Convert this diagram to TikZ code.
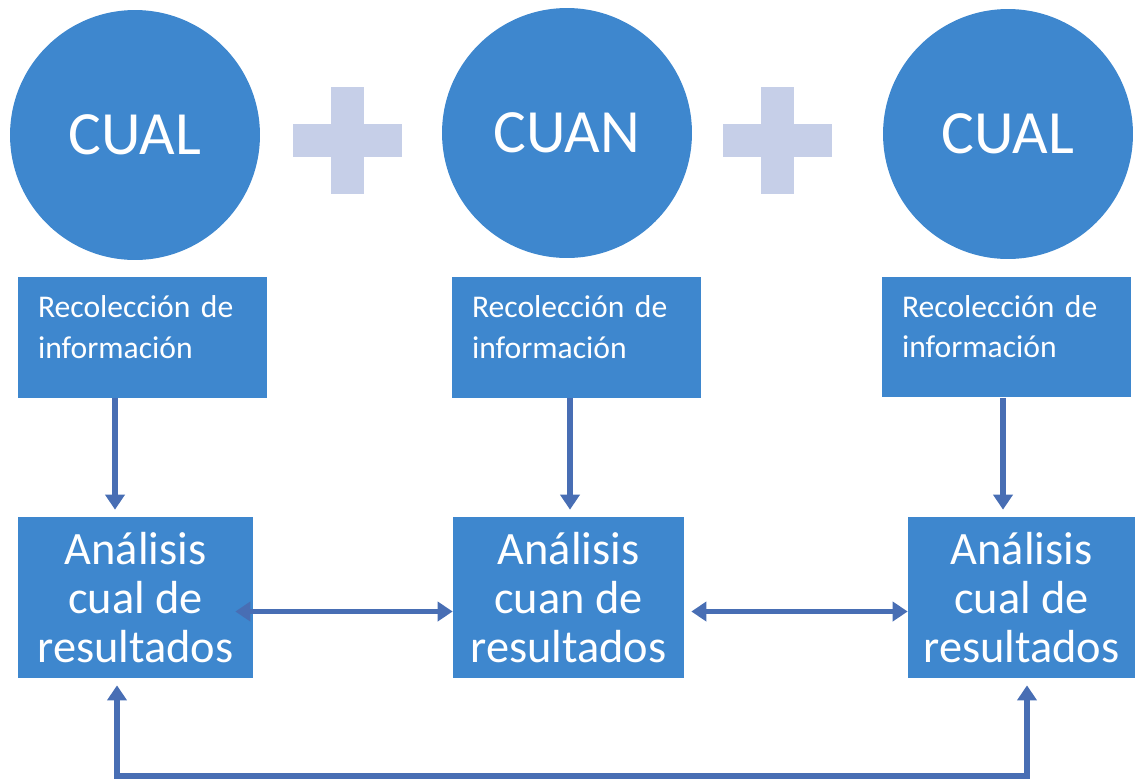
\documentclass[tikz,border=0pt]{standalone}
\usepackage{fontspec}
\setmainfont{Carlito}
\usetikzlibrary{arrows.meta}

\definecolor{mixblue}{RGB}{62,135,206}
\definecolor{linkblue}{RGB}{72,110,180}
\definecolor{plusblue}{RGB}{198,207,232}

\begin{document}
\begin{tikzpicture}[x=0.02cm, y=-0.02cm,
      >={Triangle[length=0.3cm, width=0.38cm]},
      phase/.style={circle, fill=mixblue, text=white, minimum size=5cm, inner sep=0pt, font=\fontsize{35}{40}\selectfont},
      collect/.style={rectangle, fill=mixblue, text=white, text width=4.18cm, inner xsep=0.4cm, minimum height=2.42cm, align=left, font=\fontsize{18}{22.8}\selectfont},
      analysis/.style={rectangle, fill=mixblue, text=white, minimum height=3.22cm, align=center, font=\fontsize{26.4}{28}\selectfont},
      arrow/.style={->, line width=3.2pt, draw=linkblue},
      darrow/.style={<->, line width=3.2pt, draw=linkblue}
    ]
      \useasboundingbox (0,0) rectangle (1135,782);

      % circles
      \node[phase] (cual1) at (135,135)  {CUAL};
      \node[phase] (cuan)  at (567,133)  {CUAN};
      \node[phase] (cual2) at (1008,134) {CUAL};

      % plus signs
      \foreach \px in {347,777}
        {
          \fill[plusblue] (\px-54.5,124) rectangle (\px+54.5,157);
          \fill[plusblue] (\px-16.5,87) rectangle (\px+16.5,194);
        }

      \node[collect] (rec1) at (142.5,337.5) {Recolección de\\información\rule[-0.42cm]{0pt}{0pt}};
      \node[collect] (rec2) at (576.5,337.5) {Recolección de\\información\rule[-0.42cm]{0pt}{0pt}};
      \node[collect] (rec3) at (1006.5,337)  {Recolección de\\información\rule[-0.42cm]{0pt}{0pt}};

      \node[analysis, minimum width=4.7cm]  (ana1) at (135.5,597.5)  {Análisis\\cual de\\resultados};
      \node[analysis, minimum width=4.62cm] (ana2) at (568.5,597.5)  {Análisis\\cuan de\\resultados};
      \node[analysis, minimum width=4.54cm] (ana3) at (1021.5,597.5) {Análisis\\cual de\\resultados};

      \coordinate (loop) at (0,776);

      \draw[arrow, shorten >=0.14cm] ([xshift=-0.55cm]rec1.south) -- ([xshift=-0.55cm]rec1.south |- ana1.north);
      \draw[arrow, shorten >=0.14cm] ([xshift=-0.13cm]rec2.south) -- ([xshift=-0.13cm]rec2.south |- ana2.north);
      \draw[arrow, shorten >=0.14cm] ([xshift=-0.07cm]rec3.south) -- ([xshift=-0.07cm]rec3.south |- ana3.north);

      \draw[darrow, shorten <=-0.36cm] ([yshift=-0.28cm]ana1.east) -- ([yshift=-0.28cm]ana2.west);
      \draw[darrow, shorten <=0.14cm] ([yshift=-0.28cm]ana2.east) -- ([yshift=-0.28cm]ana3.west);

      \draw[darrow, shorten <=0.14cm, shorten >=0.14cm]
        ([xshift=-0.37cm]ana1.south) -- ([xshift=-0.37cm]ana1.south |- loop)
        -- ([xshift=0.11cm]ana3.south |- loop) -- ([xshift=0.11cm]ana3.south);
    \end{tikzpicture}
\end{document}
